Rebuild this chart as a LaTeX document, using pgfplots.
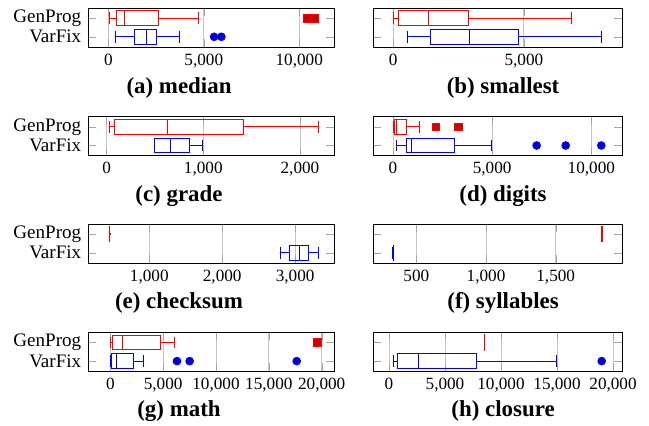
\documentclass[border=0pt]{standalone}
\usepackage{fontspec}
\setmainfont{Liberation Serif}
\usepackage{pgfplots}
\pgfplotsset{compat=1.18}
\usepgfplotslibrary{statistics}

\pgfplotsset{
  panel/.style={
    scale only axis, height=20.44pt,
    anchor=north west,
    ymin=0.45, ymax=2.55,
    ytick={1,2}, yticklabels={},
    tick align=inside, tick pos=both,
    xmajorgrids, major grid style={gray!45},
    tick style={gray!70},
    scaled x ticks=false,
    /pgf/number format/assume math mode=true,
    /pgf/number format/1000 sep={,},
    tick label style={font=\small},
    yticklabel style={font=\normalsize},
    boxplot/draw direction=x,
    every axis plot/.append style={line width=0.5pt},
  },
  leftp/.style={panel, width=128.9pt, yticklabels={VarFix,GenProg}},
  rightp/.style={panel, width=130.5pt},
  degen/.style={line width=0.8pt},
}

\begin{document}
\begin{tikzpicture}
\useasboundingbox (0,0) rectangle (340.08pt,-223.22pt);

% (a) median
\begin{axis}[leftp, at={(46.11pt,-4.19pt)}, xmin=-1063, xmax=11818, xtick={0,5000,10000}]
\addplot+[boxplot prepared={draw position=1, lower whisker=366, lower quartile=1376, median=2004, upper quartile=2544, upper whisker=3745}] coordinates {(0,5540) (0,5923)};
\addplot+[boxplot prepared={draw position=2, lower whisker=50, lower quartile=435, median=836, upper quartile=2630, upper whisker=4720}] coordinates {(0,10400) (0,10800)};
\end{axis}
\node[anchor=base, font=\large\bfseries] at (93.8pt,-48.73pt) {(a) median};

% (b) smallest
\begin{axis}[rightp, at={(195.45pt,-4.19pt)}, xmin=-777, xmax=8760, xtick={0,5000}]
\addplot+[boxplot prepared={draw position=1, lower whisker=548, lower quartile=1441, median=2935, upper quartile=4809, upper whisker=7985}] coordinates {};
\addplot+[boxplot prepared={draw position=2, lower whisker=13, lower quartile=204, median=1365, upper quartile=2883, upper whisker=6837}] coordinates {};
\end{axis}
\node[anchor=base, font=\large\bfseries] at (263.6pt,-48.73pt) {(b) smallest};

% (c) grade
\begin{axis}[leftp, at={(46.11pt,-61.15pt)}, xmin=-193, xmax=2352, xtick={0,1000,2000}]
\addplot+[boxplot prepared={draw position=1, lower whisker=497, lower quartile=497, median=656, upper quartile=856, upper whisker=990}] coordinates {};
\addplot+[boxplot prepared={draw position=2, lower whisker=34, lower quartile=86, median=628, upper quartile=1418, upper whisker=2190}] coordinates {};
\end{axis}
\node[anchor=base, font=\large\bfseries] at (93.8pt,-105.69pt) {(c) grade};

% (d) digits
\begin{axis}[rightp, at={(195.45pt,-61.15pt)}, xmin=-1008, xmax=11548, xtick={0,5000,10000}]
\addplot+[boxplot prepared={draw position=1, lower whisker=185, lower quartile=672, median=941, upper quartile=3075, upper whisker=4990}] coordinates {(0,7243) (0,8705) (0,10504)};
\addplot+[boxplot prepared={draw position=2, lower whisker=34, lower quartile=67, median=200, upper quartile=672, upper whisker=1344}] coordinates {(0,2168) (0,3294)};
\end{axis}
\node[anchor=base, font=\large\bfseries] at (263.6pt,-105.69pt) {(d) digits};

% (e) checksum
\begin{axis}[leftp, at={(46.11pt,-117.38pt)}, xmin=160, xmax=3532, xtick={1000,2000,3000}]
\addplot+[boxplot prepared={draw position=1, lower whisker=2798, lower quartile=2917, median=3055, upper quartile=3179, upper whisker=3326}] coordinates {};
\addplot+[degen, boxplot prepared={draw position=2, lower whisker=452, lower quartile=453, median=454, upper quartile=455, upper whisker=456}] coordinates {};
\end{axis}
\node[anchor=base, font=\large\bfseries] at (93.8pt,-161.55pt) {(e) checksum};

% (f) syllables
\begin{axis}[rightp, at={(195.45pt,-117.38pt)}, xmin=189, xmax=1976, xtick={500,1000,1500}]
\addplot+[degen, boxplot prepared={draw position=1, lower whisker=334, lower quartile=334.5, median=335, upper quartile=335.5, upper whisker=336}] coordinates {};
\addplot+[degen, boxplot prepared={draw position=2, lower whisker=1829, lower quartile=1829.5, median=1830, upper quartile=1830.5, upper whisker=1831}] coordinates {};
\end{axis}
\node[anchor=base, font=\large\bfseries] at (263.6pt,-161.55pt) {(f) syllables};

% (g) math
\begin{axis}[leftp, at={(46.11pt,-174.13pt)}, xmin=-2110, xmax=21162, xtick={0,5000,10000,15000,20000}]
\addplot+[boxplot prepared={draw position=1, lower whisker=0, lower quartile=95, median=568, upper quartile=2240, upper whisker=3123}] coordinates {(0,6310) (0,7509) (0,17636)};
\addplot+[boxplot prepared={draw position=2, lower whisker=0, lower quartile=190, median=1199, upper quartile=4764, upper whisker=6026}] coordinates {(0,19624)};
\end{axis}
\node[anchor=base, font=\large\bfseries] at (93.8pt,-218.5pt) {(g) math};

% (h) closure
\begin{axis}[rightp, at={(195.45pt,-174.13pt)}, xmin=-1428, xmax=20802, xtick={0,5000,10000,15000,20000}]
\addplot+[boxplot prepared={draw position=1, lower whisker=417, lower quartile=744, median=2619, upper quartile=7827, upper whisker=14910}] coordinates {(0,18987)};
\addplot+[degen, boxplot prepared={draw position=2, lower whisker=8510, lower quartile=8511, median=8512, upper quartile=8513, upper whisker=8514}] coordinates {};
\end{axis}
\node[anchor=base, font=\large\bfseries] at (263.6pt,-218.5pt) {(h) closure};

\end{tikzpicture}
\end{document}
